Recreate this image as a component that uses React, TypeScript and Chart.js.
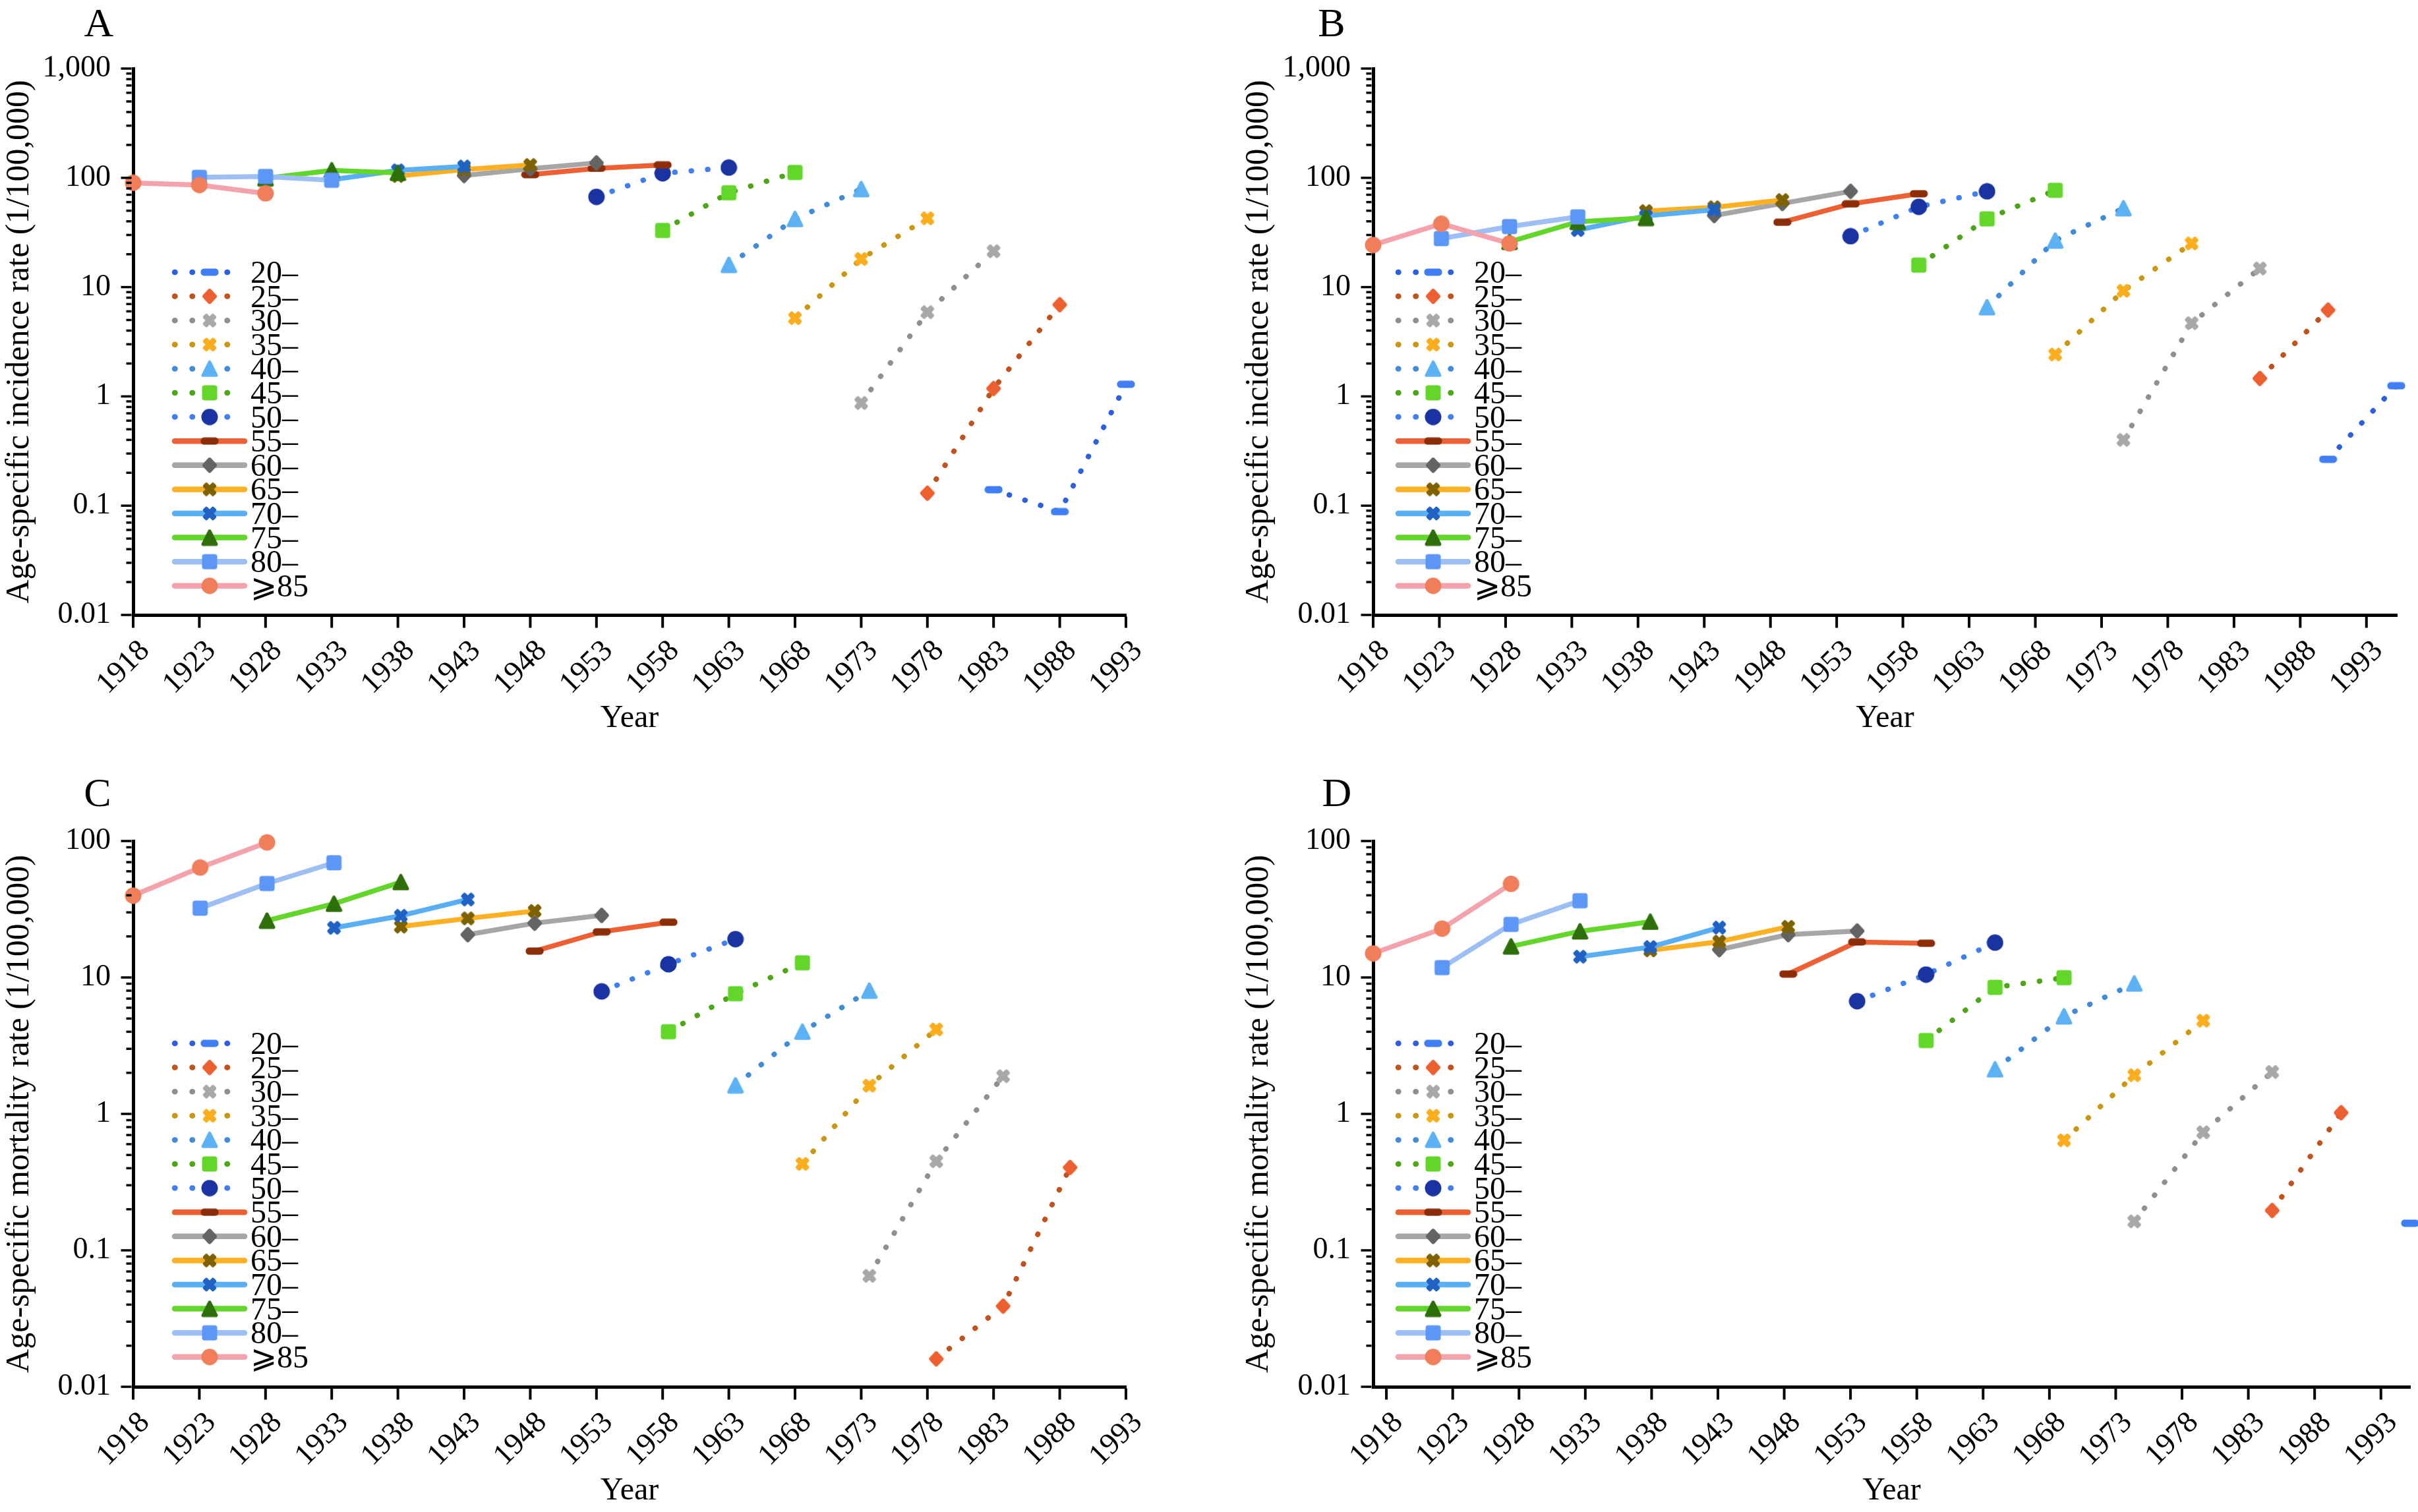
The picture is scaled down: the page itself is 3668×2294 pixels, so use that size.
import React, { useEffect, useRef } from "react";
import { Chart, registerables } from "chart.js";

Chart.register(...registerables);

// ---------------- DATA ----------------
const ageGroups = ["20–", "25–", "30–", "35–", "40–", "45–", "50–", "55–", "60–", "65–", "70–", "75–", "80–", "⩾85"];

const xTickYears = [1918, 1923, 1928, 1933, 1938, 1943, 1948, 1953, 1958, 1963, 1968, 1973, 1978, 1983, 1988, 1993];

const yTickValuesIncidence = [0.01, 0.1, 1, 10, 100, 1000];
const yTickLabelsIncidence = ["0.01", "0.1", "1", "10", "100", "1,000"];
const yTickValuesMortality = [0.01, 0.1, 1, 10, 100];
const yTickLabelsMortality = ["0.01", "0.1", "1", "10", "100"];

// Birth-cohort positions on the year axis, one list per panel
const cohortYearsA = [1918, 1923, 1928, 1933, 1938, 1943, 1948, 1953, 1958, 1963, 1968, 1973, 1978, 1983, 1988, 1993];
const cohortYearsB = [1918, 1923.15, 1928.3, 1933.45, 1938.6, 1943.75, 1948.9, 1954.05, 1959.2, 1964.35, 1969.5, 1974.65, 1979.8, 1984.95, 1990.1, 1995.25];
const cohortYearsC = [1918, 1923.06, 1928.11, 1933.17, 1938.22, 1943.28, 1948.33, 1953.39, 1958.44, 1963.5, 1968.56, 1973.61, 1978.67, 1983.72, 1988.78];
const cohortYearsD = [1917, 1922.2, 1927.4, 1932.6, 1937.9, 1943.1, 1948.3, 1953.5, 1958.7, 1963.9, 1969.1, 1974.4, 1979.6, 1984.8, 1990.0, 1995.2];

// Index of the first cohort of each age group (same order as ageGroups)
const firstCohortA = [13, 12, 11, 10, 9, 8, 7, 6, 5, 4, 3, 2, 1, 0];
const firstCohortB = [14, 13, 11, 10, 9, 8, 7, 6, 5, 4, 3, 2, 1, 0];
const firstCohortC = [14, 12, 11, 10, 9, 8, 7, 6, 5, 4, 3, 2, 1, 0];
const firstCohortD = [15, 13, 11, 10, 9, 8, 7, 6, 5, 4, 3, 2, 1, 0];

// A: age-specific incidence rate (1/100,000)
const incidenceA = [
  [0.14, 0.088, 1.29],   // 20–
  [0.13, 1.18, 6.9],     // 25–
  [0.87, 5.9, 21.3],     // 30–
  [5.2, 18.1, 42.6],     // 35–
  [16, 42, 79],          // 40–
  [33, 73, 112],         // 45–
  [67, 110, 124],        // 50–
  [107, 122, 131],       // 55–
  [105, 121, 137],       // 60–
  [104, 119, 131],       // 65–
  [96, 117, 127],        // 70–
  [99, 117, 111],        // 75–
  [101, 103, 95],        // 80–
  [90, 86, 72],          // ⩾85
];

// B: age-specific incidence rate (1/100,000)
const incidenceB = [
  [0.266, 1.25],
  [1.46, 6.16],
  [0.4, 4.68, 14.8],
  [2.42, 9.25, 25.1],
  [6.55, 26.7, 52.7],
  [15.9, 42.1, 76.8],
  [29.2, 54.3, 75.2],
  [39.2, 57.7, 71.5],
  [45.2, 58.3, 75.2],
  [49.6, 53.8, 62.6],
  [33.3, 44.8, 51.1],
  [26, 39.6, 43],
  [27.8, 35.8, 43.9],
  [24.3, 38.0, 25.1],
];

// C: age-specific mortality rate (1/100,000)
const mortalityC = [
  [],
  [0.016, 0.039, 0.405],
  [0.065, 0.45, 1.89],
  [0.43, 1.61, 4.16],
  [1.62, 4.0, 8.0],
  [4.0, 7.6, 12.8],
  [7.9, 12.5, 19.1],
  [15.6, 21.6, 25.4],
  [20.6, 25.0, 28.5],
  [23.6, 27.1, 30.7],
  [23.1, 28.3, 37.3],
  [26.1, 34.7, 50],
  [32.2, 48.8, 69.3],
  [39.8, 63.9, 97.6],
];

// D: age-specific mortality rate (1/100,000)
const mortalityD = [
  [0.158],
  [0.196, 1.02],
  [0.163, 0.733, 2.03],
  [0.64, 1.92, 4.82],
  [2.12, 5.19, 9.03],
  [3.45, 8.46, 9.96],
  [6.7, 10.5, 18.0],
  [10.6, 18.2, 17.8],
  [16.0, 20.6, 21.9],
  [15.8, 18.3, 23.5],
  [14.2, 16.7, 23.2],
  [16.9, 21.8, 25.6],
  [11.8, 24.5, 36.5],
  [15.0, 22.8, 48.5],
];

// ---------------- STYLES ----------------
const FONT = "'Liberation Serif', 'Times New Roman', 'DejaVu Serif', serif";
const dotted = [true, true, true, true, true, true, true, false, false, false, false, false, false, false];
const lineColors = ["#2d5fe3", "#c2521c", "#8f8f8f", "#c99710", "#418bdb", "#4ca616", "#3f7ef5", "#ec6034", "#a6a6a6", "#fbb123", "#5aaff3", "#63d62b", "#9ebff3", "#f4a3ac"];
const markerColors = ["#3f7ef5", "#ee5f2f", "#a8a8a8", "#fbad1c", "#5cb2f5", "#62d72a", "#1a33a3", "#8b2d06", "#646464", "#7f6200", "#2062c4", "#2e6f0a", "#5c97f7", "#f07e5b"];
const markerShapes = ["bar", "diamond", "cross", "cross", "triangle", "square", "circle", "bar", "diamond", "cross", "cross", "triangle", "square", "circle"];

const W = 1834;
const H = 1147;

function rr(g: CanvasRenderingContext2D, x: number, y: number, w: number, h: number, r: number) {
  g.beginPath();
  g.moveTo(x + r, y);
  g.lineTo(x + w - r, y);
  g.arcTo(x + w, y, x + w, y + r, r);
  g.lineTo(x + w, y + h - r);
  g.arcTo(x + w, y + h, x + w - r, y + h, r);
  g.lineTo(x + r, y + h);
  g.arcTo(x, y + h, x, y + h - r, r);
  g.lineTo(x, y + r);
  g.arcTo(x, y, x + r, y, r);
  g.closePath();
}

function makeMarker(shape: string, color: string): HTMLCanvasElement {
  const c = document.createElement("canvas");
  let w = 26, h = 26;
  if (shape === "bar") { w = 28; h = 12; }
  if (shape === "diamond") { w = 26; h = 28; }
  c.width = w;
  c.height = h;
  const g = c.getContext("2d")!;
  g.fillStyle = color;
  g.strokeStyle = color;
  g.lineJoin = "round";
  if (shape === "bar") {
    rr(g, 0.5, 0.5, w - 1, h - 1, 5);
    g.fill();
  } else if (shape === "square") {
    rr(g, 1.5, 1.5, 23, 23, 4);
    g.fill();
  } else if (shape === "circle") {
    g.beginPath();
    g.arc(13, 13, 12.5, 0, Math.PI * 2);
    g.fill();
  } else if (shape === "diamond") {
    g.translate(13, 14);
    g.scale(1, 1.06);
    g.rotate(Math.PI / 4);
    rr(g, -8.6, -8.6, 17.2, 17.2, 3);
    g.fill();
  } else if (shape === "triangle") {
    g.lineWidth = 5;
    g.beginPath();
    g.moveTo(13, 3);
    g.lineTo(23, 23);
    g.lineTo(3, 23);
    g.closePath();
    g.fill();
    g.stroke();
  } else if (shape === "cross") {
    g.translate(13, 13);
    for (const a of [Math.PI / 4, -Math.PI / 4]) {
      g.save();
      g.rotate(a);
      rr(g, -11.5, -4.5, 23, 9, 2.5);
      g.fill();
      g.restore();
    }
  }
  return c;
}

type PanelDef = {
  letter: string;
  left: number;
  top: number;
  yTitle: string;
  yVals: number[];
  yLabels: string[];
  xMin: number;
  xMax: number;
  cohorts: number[];
  first: number[];
  rates: number[][];
  area: { left: number; top: number; right: number; bottom: number };
  legend: { cx: number; y0: number };
  letterPos: { x: number; y: number };
  yTitlePad: number;
  xTitlePad: number;
};

const panelDefs: PanelDef[] = [
  {
    letter: "A", left: 0, top: 0,
    yTitle: "Age-specific incidence rate (1/100,000)",
    yVals: yTickValuesIncidence, yLabels: yTickLabelsIncidence,
    xMin: 1918, xMax: 1993, cohorts: cohortYearsA, first: firstCohortA, rates: incidenceA,
    area: { left: 202, top: 104, right: 1708, bottom: 933 },
    legend: { cx: 318, y0: 413 }, letterPos: { x: 150, y: 55 }, yTitlePad: 0, xTitlePad: 28,
  },
  {
    letter: "B", left: 1834, top: 0,
    yTitle: "Age-specific incidence rate (1/100,000)",
    yVals: yTickValuesIncidence, yLabels: yTickLabelsIncidence,
    xMin: 1918, xMax: 1995.3, cohorts: cohortYearsB, first: firstCohortB, rates: incidenceB,
    area: { left: 249, top: 104, right: 1802, bottom: 933 },
    legend: { cx: 340, y0: 413 }, letterPos: { x: 186, y: 55 }, yTitlePad: 46, xTitlePad: 28,
  },
  {
    letter: "C", left: 0, top: 1147,
    yTitle: "Age-specific mortality rate (1/100,000)",
    yVals: yTickValuesMortality, yLabels: yTickLabelsMortality,
    xMin: 1918, xMax: 1993, cohorts: cohortYearsC, first: firstCohortC, rates: mortalityC,
    area: { left: 202, top: 129, right: 1708, bottom: 957 },
    legend: { cx: 318, y0: 436 }, letterPos: { x: 148, y: 76 }, yTitlePad: 0, xTitlePad: 3,
  },
  {
    letter: "D", left: 1834, top: 1147,
    yTitle: "Age-specific mortality rate (1/100,000)",
    yVals: yTickValuesMortality, yLabels: yTickLabelsMortality,
    xMin: 1917, xMax: 1995.2, cohorts: cohortYearsD, first: firstCohortD, rates: mortalityD,
    area: { left: 249, top: 129, right: 1822, bottom: 957 },
    legend: { cx: 340, y0: 436 }, letterPos: { x: 194, y: 76 }, yTitlePad: 46, xTitlePad: 3,
  },
];

function buildConfig(p: PanelDef): any {
  const markers = ageGroups.map((_, i) => makeMarker(markerShapes[i], markerColors[i]));
  const drawOrder = ageGroups.map((_, i) => ageGroups.length - 1 - i);
  const datasets = drawOrder
    .filter((i) => p.rates[i].length > 0)
    .map((i) => ({
      label: ageGroups[i],
      data: p.rates[i].map((v, j) => ({ x: p.cohorts[p.first[i] + j], y: v })),
      borderColor: lineColors[i],
      backgroundColor: markerColors[i],
      borderWidth: dotted[i] ? 8 : 7.5,
      borderDash: dotted[i] ? [0.5, 24.5] : [],
      borderCapStyle: "round",
      borderJoinStyle: "round",
      pointStyle: markers[i],
      pointRadius: 12,
      pointHoverRadius: 12,
      pointBorderWidth: 0,
      tension: 0,
      fill: false,
      clip: false,
    }));

  const decor = {
    id: "decor" + p.letter,
    afterDraw(chart: any) {
      const { ctx, chartArea } = chart;
      const xs = chart.scales.x;
      const ys = chart.scales.y;
      ctx.save();
      ctx.strokeStyle = "#000";
      ctx.lineCap = "butt";
      const axX = chartArea.left - 2.5;
      // y major / minor ticks
      ctx.lineWidth = 3.5;
      const minExp = Math.round(Math.log10(ys.min));
      const maxExp = Math.round(Math.log10(ys.max));
      for (let e = minExp; e <= maxExp; e++) {
        const py = ys.getPixelForValue(Math.pow(10, e));
        ctx.beginPath();
        ctx.moveTo(axX - 16, py);
        ctx.lineTo(axX, py);
        ctx.stroke();
        if (e < maxExp) {
          for (let m = 2; m <= 9; m++) {
            const pm = ys.getPixelForValue(m * Math.pow(10, e));
            ctx.beginPath();
            ctx.moveTo(axX - 8, pm);
            ctx.lineTo(axX, pm);
            ctx.stroke();
          }
        }
      }
      // x ticks
      ctx.lineWidth = 4;
      const axY = chartArea.bottom + 2.5;
      for (const v of xTickYears) {
        const px = xs.getPixelForValue(v);
        ctx.beginPath();
        ctx.moveTo(px, axY);
        ctx.lineTo(px, axY + 17);
        ctx.stroke();
      }
      // panel letter
      ctx.fillStyle = "#000";
      ctx.font = `62px ${FONT}`;
      ctx.textAlign = "center";
      ctx.textBaseline = "alphabetic";
      ctx.fillText(p.letter, p.letterPos.x, p.letterPos.y);
      // legend
      const rowH = 36.6;
      ageGroups.forEach((label, i) => {
        const cy = p.legend.y0 + i * rowH;
        const cx = p.legend.cx;
        ctx.strokeStyle = lineColors[i];
        ctx.lineWidth = 8.5;
        ctx.lineCap = "round";
        ctx.setLineDash(dotted[i] ? [0.5, 26] : []);
        ctx.beginPath();
        ctx.moveTo(cx - 53, cy);
        ctx.lineTo(cx + 53, cy);
        ctx.stroke();
        ctx.setLineDash([]);
        const mk = markers[i];
        ctx.drawImage(mk, cx - mk.width / 2, cy - mk.height / 2);
        ctx.fillStyle = "#000";
        ctx.font = `48px ${FONT}`;
        ctx.textAlign = "left";
        ctx.textBaseline = "alphabetic";
        ctx.fillText(label, cx + 62, cy + 16);
      });
      ctx.restore();
    },
  };

  const tickFont = { family: FONT, size: 46 };

  return {
    type: "line",
    data: { datasets },
    plugins: [decor],
    options: {
      responsive: false,
      animation: false,
      devicePixelRatio: 1,
      events: [],
      layout: { padding: { left: 0, top: p.area.top, right: W - p.area.right, bottom: 0 } },
      plugins: {
        legend: { display: false },
        tooltip: { enabled: false },
        title: { display: false },
      },
      scales: {
        x: {
          type: "linear",
          position: "bottom",
          min: p.xMin,
          max: p.xMax,
          afterBuildTicks: (s: any) => {
            s.ticks = xTickYears.map((v) => ({ value: v }));
          },
          afterFit: (s: any) => {
            s.height = H - p.area.bottom;
          },
          ticks: {
            autoSkip: false,
            minRotation: 45,
            maxRotation: 45,
            labelOffset: 18,
            padding: 11,
            color: "#000",
            font: tickFont,
            callback: (v: any) => String(v),
          },
          grid: {
            display: true,
            drawOnChartArea: false,
            drawTicks: true,
            tickLength: 17,
            color: "rgba(0,0,0,0)",
            tickColor: "rgba(0,0,0,0)",
          },
          border: { display: true, color: "#000", width: 5 },
          title: {
            display: true,
            text: "Year",
            color: "#000",
            font: { family: FONT, size: 48 },
            padding: { top: 0, bottom: p.xTitlePad },
          },
        },
        y: {
          type: "logarithmic",
          position: "left",
          min: 0.01,
          max: p.yVals[p.yVals.length - 1],
          afterBuildTicks: (s: any) => {
            s.ticks = p.yVals.map((v) => ({ value: v, major: true }));
          },
          afterFit: (s: any) => {
            s.width = p.area.left;
          },
          ticks: {
            autoSkip: false,
            padding: 20,
            color: "#000",
            font: tickFont,
            callback: (v: any) => {
              const k = p.yVals.indexOf(v);
              return k >= 0 ? p.yLabels[k] : "";
            },
          },
          grid: {
            display: true,
            drawOnChartArea: false,
            drawTicks: true,
            tickLength: 14,
            color: "rgba(0,0,0,0)",
            tickColor: "rgba(0,0,0,0)",
          },
          border: { display: true, color: "#000", width: 5 },
          title: {
            display: true,
            text: p.yTitle,
            color: "#000",
            font: { family: FONT, size: 50 },
            padding: { top: p.yTitlePad, bottom: 0 },
          },
        },
      },
    },
  };
}

function Panel({ p }: { p: PanelDef }) {
  const ref = useRef<HTMLCanvasElement>(null);
  useEffect(() => {
    const chart = new Chart(ref.current as HTMLCanvasElement, buildConfig(p));
    return () => chart.destroy();
  }, []);
  return (
    <canvas
      ref={ref}
      width={W}
      height={H}
      style={{ position: "absolute", left: p.left, top: p.top, width: W, height: H }}
    />
  );
}

export default function App() {
  return (
    <div style={{ position: "fixed", left: 0, top: 0, width: 3668, height: 2294, background: "#fff", overflow: "hidden" }}>
      {panelDefs.map((p) => (
        <Panel key={p.letter} p={p} />
      ))}
    </div>
  );
}
